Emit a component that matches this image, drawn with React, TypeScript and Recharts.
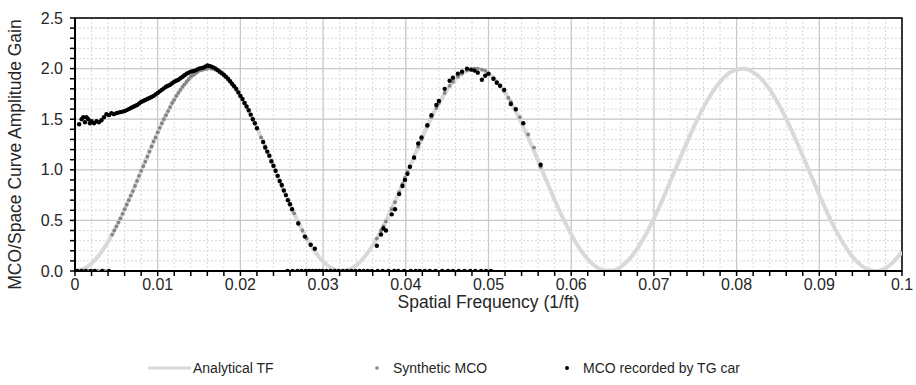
import React from 'react'
import {
  ComposedChart,
  Line,
  Scatter,
  XAxis,
  YAxis,
  CartesianGrid,
  ReferenceArea,
  Legend,
} from 'recharts'

const FONT = '"Liberation Sans", Arial, sans-serif'
const TF_COLOR = '#d9d9d9'
const SYN_COLOR = '#858585'
const TG_COLOR = '#000000'

// Analytical transfer function, sampled every 0.001 1/ft
const tfFreq = [
  0, 0.001, 0.002, 0.003, 0.004, 0.005, 0.006, 0.007, 0.008, 0.009,
  0.01, 0.011, 0.012, 0.013, 0.014, 0.015, 0.016, 0.017, 0.018, 0.019,
  0.02, 0.021, 0.022, 0.023, 0.024, 0.025, 0.026, 0.027, 0.028, 0.029,
  0.03, 0.031, 0.032, 0.033, 0.034, 0.035, 0.036, 0.037, 0.038, 0.039,
  0.04, 0.041, 0.042, 0.043, 0.044, 0.045, 0.046, 0.047, 0.048, 0.049,
  0.05, 0.051, 0.052, 0.053, 0.054, 0.055, 0.056, 0.057, 0.058, 0.059,
  0.06, 0.061, 0.062, 0.063, 0.064, 0.065, 0.066, 0.067, 0.068, 0.069,
  0.07, 0.071, 0.072, 0.073, 0.074, 0.075, 0.076, 0.077, 0.078, 0.079,
  0.08, 0.081, 0.082, 0.083, 0.084, 0.085, 0.086, 0.087, 0.088, 0.089,
  0.09, 0.091, 0.092, 0.093, 0.094, 0.095, 0.096, 0.097, 0.098, 0.099,
  0.1,
]
const tfGain = [
  0, 0.019, 0.075, 0.166, 0.289, 0.438, 0.609, 0.794, 0.987, 1.181,
  1.368, 1.54, 1.694, 1.821, 1.915, 1.976, 2.0, 1.986, 1.934, 1.848,
  1.729, 1.582, 1.414, 1.23, 1.038, 0.843, 0.655, 0.48, 0.324, 0.193,
  0.095, 0.03, 0.001, 0.01, 0.057, 0.139, 0.254, 0.398, 0.563, 0.745,
  0.937, 1.132, 1.321, 1.499, 1.657, 1.791, 1.895, 1.964, 1.997, 1.993,
  1.951, 1.873, 1.762, 1.623, 1.459, 1.279, 1.088, 0.893, 0.703, 0.523,
  0.363, 0.224, 0.117, 0.043, 0.005, 0.004, 0.041, 0.115, 0.222, 0.358,
  0.518, 0.697, 0.887, 1.082, 1.273, 1.454, 1.617, 1.757, 1.869, 1.95,
  1.992, 1.998, 1.965, 1.897, 1.794, 1.661, 1.503, 1.327, 1.138, 0.943,
  0.751, 0.569, 0.402, 0.259, 0.142, 0.059, 0.011, 0.001, 0.028, 0.093,
  0.191,
]

// Synthetic MCO
const synFreq = [
  0.0016, 0.0021, 0.0028, 0.0036,
  0.0045, 0.00475, 0.005, 0.00525, 0.0055, 0.00575, 0.006, 0.00625, 0.0065, 0.00675,
  0.007, 0.00725, 0.0075, 0.00775, 0.008, 0.00825, 0.0085, 0.00875, 0.009, 0.00925,
  0.0095, 0.00975, 0.01, 0.01025, 0.0105, 0.01075, 0.011, 0.01125, 0.0115, 0.01175,
  0.012, 0.01225, 0.0125, 0.01275, 0.013, 0.01325, 0.0135, 0.01375, 0.014, 0.01425,
  0.0145, 0.01475, 0.015, 0.01525, 0.0155, 0.01575, 0.016,
  0.0165, 0.017, 0.0175, 0.018, 0.0185, 0.019,
  0.0195, 0.02, 0.0205, 0.021, 0.0215, 0.022, 0.0225, 0.023, 0.0235, 0.024,
  0.0245, 0.025, 0.0255, 0.026, 0.0265, 0.027, 0.0275, 0.028, 0.0285,
  0.0365, 0.037, 0.0373, 0.0376, 0.0383, 0.0387, 0.0392, 0.0396, 0.0399,
  0.0402, 0.0405, 0.041, 0.0415, 0.0419, 0.0426, 0.0431, 0.0437, 0.044,
  0.0447, 0.0453, 0.0457, 0.0463, 0.0468, 0.0474, 0.0479, 0.0483, 0.0487,
  0.0492, 0.0496, 0.05, 0.0506, 0.051, 0.0514, 0.0519, 0.0524, 0.0527,
  0.0533, 0.0538, 0.0542, 0.0548, 0.0555, 0.0563,
]
const synGain = [
  0, 0, 0, 0,
  0.36, 0.4, 0.44, 0.48, 0.52, 0.565, 0.61, 0.655, 0.7, 0.745,
  0.79, 0.84, 0.89, 0.94, 0.99, 1.035, 1.08, 1.13, 1.18, 1.23,
  1.28, 1.32, 1.37, 1.415, 1.46, 1.5, 1.54, 1.58, 1.62, 1.66,
  1.69, 1.73, 1.76, 1.79, 1.82, 1.845, 1.87, 1.895, 1.92, 1.935,
  1.95, 1.965, 1.98, 1.985, 1.99, 1.997, 2.0,
  2.0, 1.99, 1.97, 1.93, 1.9, 1.85,
  1.79, 1.73, 1.66, 1.58, 1.5, 1.41, 1.32, 1.23, 1.14, 1.04,
  0.94, 0.84, 0.75, 0.66, 0.57, 0.48, 0.4, 0.32, 0.26,
  0.32, 0.4, 0.44, 0.49, 0.61, 0.68, 0.78, 0.86, 0.92,
  0.98, 1.03, 1.13, 1.23, 1.3, 1.43, 1.52, 1.61, 1.66,
  1.76, 1.83, 1.87, 1.92, 1.95, 1.98, 1.99, 2.0, 2.0,
  1.99, 1.98, 1.95, 1.9, 1.87, 1.83, 1.78, 1.71, 1.67,
  1.59, 1.52, 1.46, 1.35, 1.22, 1.03,
]

// MCO recorded by TG car
const tgFreq = [
  0.0005, 0.0008, 0.001, 0.0012, 0.0014, 0.0016, 0.0018, 0.002, 0.0023, 0.0026,
  0.0029, 0.0032, 0.0035, 0.0038, 0.0041, 0.0044, 0.0047, 0.005, 0.00525, 0.0055,
  0.00575, 0.006, 0.00625, 0.0065, 0.00675, 0.007, 0.00725, 0.0075, 0.00775, 0.008,
  0.00825, 0.0085, 0.00875, 0.009, 0.00925, 0.0095, 0.00975, 0.01, 0.01025, 0.0105,
  0.01075, 0.011, 0.01125, 0.0115, 0.01175, 0.012, 0.01225, 0.0125, 0.01275, 0.013,
  0.01325, 0.0135, 0.01375, 0.014, 0.01425, 0.0145, 0.01475, 0.015, 0.01525, 0.0155,
  0.01575, 0.016, 0.01625, 0.0165, 0.01675, 0.017, 0.01725, 0.0175, 0.01775, 0.018,
  0.01825, 0.0185, 0.01875, 0.019, 0.01925, 0.0195, 0.01975, 0.02, 0.02025, 0.0205,
  0.02075, 0.021, 0.02125, 0.0215, 0.02175, 0.022, 0.02275, 0.023, 0.02325, 0.0235,
  0.02375, 0.024, 0.02425, 0.0245, 0.02475, 0.025, 0.02525, 0.0255, 0.02575, 0.026,
  0.02625, 0.027, 0.0278, 0.0285, 0.029,
  0.0365, 0.037, 0.0373, 0.0376, 0.0383, 0.0387, 0.0392, 0.0396, 0.0399, 0.0402,
  0.0405, 0.041, 0.0415, 0.0419, 0.0426, 0.0431, 0.0437, 0.044, 0.0447, 0.0453,
  0.0457, 0.0463, 0.0468, 0.0474, 0.0479, 0.0483, 0.0487, 0.0492, 0.0496, 0.05,
  0.0506, 0.051, 0.0514, 0.0519, 0.0527, 0.0533, 0.0542, 0.0563,
  0.0003, 0.0008, 0.0013, 0.0019, 0.0024, 0.0033, 0.0041,
  0.0257, 0.0263, 0.0269, 0.0274, 0.0279, 0.0283, 0.0287, 0.0291, 0.0295, 0.0299,
  0.0304, 0.0309, 0.0314, 0.0319, 0.0324, 0.0329, 0.0334, 0.0339, 0.0344, 0.0349,
  0.0354, 0.0359, 0.0366, 0.0372, 0.0379, 0.0386, 0.0391, 0.0398, 0.0406, 0.0412,
  0.0417, 0.0423, 0.0429, 0.0436, 0.0444, 0.0451, 0.0457, 0.0464, 0.0471, 0.0478,
  0.0484, 0.0491, 0.0497, 0.0503,
]
const tgGain = [
  1.45, 1.5, 1.52, 1.47, 1.52, 1.5, 1.46, 1.48, 1.46, 1.48,
  1.47, 1.49, 1.52, 1.55, 1.54, 1.56, 1.55, 1.56, 1.565, 1.57,
  1.575, 1.58, 1.59, 1.6, 1.61, 1.62, 1.63, 1.64, 1.655, 1.67,
  1.68, 1.69, 1.7, 1.71, 1.72, 1.73, 1.745, 1.76, 1.775, 1.79,
  1.805, 1.82, 1.83, 1.84, 1.855, 1.87, 1.88, 1.89, 1.905, 1.92,
  1.935, 1.95, 1.96, 1.97, 1.975, 1.98, 1.99, 2.0, 2.005, 2.01,
  2.02, 2.03, 2.025, 2.02, 2.01, 2.0, 1.985, 1.97, 1.955, 1.94,
  1.92, 1.9, 1.875, 1.85, 1.825, 1.8, 1.765, 1.73, 1.7, 1.66,
  1.625, 1.59, 1.545, 1.5, 1.46, 1.41, 1.275, 1.22, 1.18, 1.14,
  1.085, 1.04, 0.99, 0.94, 0.89, 0.85, 0.795, 0.75, 0.7, 0.66,
  0.61, 0.47, 0.34, 0.26, 0.22,
  0.25, 0.36, 0.42, 0.4, 0.56, 0.61, 0.76, 0.84, 0.9, 0.96,
  1.03, 1.12, 1.26, 1.32, 1.44, 1.54, 1.64, 1.68, 1.8, 1.88,
  1.91, 1.95, 1.97, 2.0, 1.99, 1.98, 1.96, 1.89, 1.93, 1.95,
  1.9, 1.86, 1.83, 1.79, 1.65, 1.6, 1.46, 1.05,
  0, 0, 0, 0, 0, 0, 0,
  0, 0, 0, 0, 0, 0, 0, 0, 0, 0,
  0, 0, 0, 0, 0, 0, 0, 0, 0, 0,
  0, 0, 0, 0, 0, 0, 0, 0, 0, 0,
  0, 0, 0, 0, 0, 0, 0, 0, 0, 0,
  0, 0, 0, 0,
]

// axis ticks (minor marks every 0.002 / 0.1, labels on the majors)
const xMajor = [0, 0.01, 0.02, 0.03, 0.04, 0.05, 0.06, 0.07, 0.08, 0.09, 0.1]
const xMinor = [
  0, 0.002, 0.004, 0.006, 0.008, 0.01, 0.012, 0.014, 0.016, 0.018,
  0.02, 0.022, 0.024, 0.026, 0.028, 0.03, 0.032, 0.034, 0.036, 0.038,
  0.04, 0.042, 0.044, 0.046, 0.048, 0.05, 0.052, 0.054, 0.056, 0.058,
  0.06, 0.062, 0.064, 0.066, 0.068, 0.07, 0.072, 0.074, 0.076, 0.078,
  0.08, 0.082, 0.084, 0.086, 0.088, 0.09, 0.092, 0.094, 0.096, 0.098,
  0.1,
]
const yMajor = [0, 0.5, 1, 1.5, 2, 2.5]
const yMinor = [
  0, 0.1, 0.2, 0.3, 0.4, 0.5, 0.6, 0.7, 0.8, 0.9,
  1, 1.1, 1.2, 1.3, 1.4, 1.5, 1.6, 1.7, 1.8, 1.9,
  2, 2.1, 2.2, 2.3, 2.4, 2.5,
]

const tfData = tfFreq.map((f, i) => ({ f, g: tfGain[i] }))
const synData = synFreq.map((f, i) => ({ f, g: synGain[i] }))
const tgData = tgFreq.map((f, i) => ({ f, g: tgGain[i] }))

const isMajor = (list: number[], v: number) => list.some((m) => Math.abs(m - v) < 1e-9)
const fmtX = (v: number) => (isMajor(xMajor, v) ? String(v) : '')
const fmtY = (v: number) => (isMajor(yMajor, v) ? v.toFixed(1) : '')

const dotShape = (r: number, fill: string) => (p: any) =>
  p.cx == null ? <g /> : <circle cx={p.cx} cy={p.cy} r={r} fill={fill} />

function XLabel({ viewBox }: any) {
  const { x, y, width } = viewBox
  return (
    <text x={x + width / 2} y={y + 37} textAnchor="middle" fontFamily={FONT} fontSize={17.5} fill="#262626">
      Spatial Frequency (1/ft)
    </text>
  )
}

function YLabel({ viewBox }: any) {
  const { x, y, height } = viewBox
  const cx = x + 15
  const cy = y + height / 2 + 10
  return (
    <text
      x={cx}
      y={cy}
      transform={`rotate(-90 ${cx} ${cy})`}
      textAnchor="middle"
      dominantBaseline="central"
      fontFamily={FONT}
      fontSize={17.5}
      fill="#262626"
    >
      MCO/Space Curve Amplitude Gain
    </text>
  )
}

// legend entries laid out like the original export
function ChartLegend() {
  const text = { position: 'absolute', top: 9, lineHeight: '16px' } as const
  return (
    <div style={{ position: 'relative', height: 34, fontFamily: FONT, fontSize: 14, color: '#262626' }}>
      <svg style={{ position: 'absolute', left: 148, top: 13 }} width={43} height={8}>
        <line x1={0} y1={4} x2={43} y2={4} stroke={TF_COLOR} strokeWidth={3} />
      </svg>
      <span style={{ ...text, left: 193 }}>Analytical TF</span>
      <svg style={{ position: 'absolute', left: 370, top: 13 }} width={14} height={8}>
        <circle cx={7} cy={4} r={1.8} fill={SYN_COLOR} />
      </svg>
      <span style={{ ...text, left: 393 }}>Synthetic MCO</span>
      <svg style={{ position: 'absolute', left: 560, top: 13 }} width={14} height={8}>
        <circle cx={7} cy={4} r={2} fill={TG_COLOR} />
      </svg>
      <span style={{ ...text, left: 583 }}>MCO recorded by TG car</span>
    </div>
  )
}

const tickStyle = { fontSize: 16, fill: '#262626', fontFamily: FONT }

export default function App() {
  return (
    <div style={{ position: 'absolute', left: 0, top: 0, width: 916, height: 385, background: '#fff' }}>
      <ComposedChart width={916} height={385} margin={{ top: 18, right: 14, bottom: 0, left: 0 }}>
        <XAxis xAxisId="maj" type="number" dataKey="f" domain={[0, 0.1]} ticks={xMajor} allowDataOverflow hide />
        <YAxis yAxisId="maj" type="number" domain={[0, 2.5]} ticks={yMajor} allowDataOverflow hide />
        <CartesianGrid stroke="#d8d8d8" strokeDasharray="2 2" />
        <CartesianGrid xAxisId="maj" yAxisId="maj" stroke="#c9c9c9" strokeWidth={1.25} />
        <XAxis
          type="number"
          dataKey="f"
          domain={[0, 0.1]}
          ticks={xMinor}
          interval={0}
          allowDataOverflow
          tickFormatter={fmtX}
          tick={tickStyle}
          tickSize={5}
          tickMargin={3}
          height={80}
          axisLine={{ stroke: '#000', strokeWidth: 2 }}
          tickLine={{ stroke: '#000', strokeWidth: 1.5 }}
          label={<XLabel />}
        />
        <YAxis
          type="number"
          domain={[0, 2.5]}
          ticks={yMinor}
          interval={0}
          allowDataOverflow
          tickFormatter={fmtY}
          tick={tickStyle}
          tickSize={5}
          tickMargin={7}
          width={75}
          axisLine={{ stroke: '#000', strokeWidth: 2 }}
          tickLine={{ stroke: '#000', strokeWidth: 1.5 }}
          label={<YLabel />}
        />
        <ReferenceArea x1={0} x2={0.1} y1={0} y2={2.5} fill="none" stroke="#000" strokeWidth={1.5} ifOverflow="visible" />
        <Line
          data={tfData}
          dataKey="g"
          name="Analytical TF"
          type="monotone"
          stroke={TF_COLOR}
          strokeWidth={4}
          dot={false}
          activeDot={false}
          isAnimationActive={false}
        />
        <Scatter data={synData} dataKey="g" name="Synthetic MCO" shape={dotShape(1.9, SYN_COLOR)} isAnimationActive={false} />
        <Scatter data={tgData} dataKey="g" name="MCO recorded by TG car" shape={dotShape(2.2, TG_COLOR)} isAnimationActive={false} />
        <Legend verticalAlign="bottom" height={34} content={<ChartLegend />} />
      </ComposedChart>
    </div>
  )
}
